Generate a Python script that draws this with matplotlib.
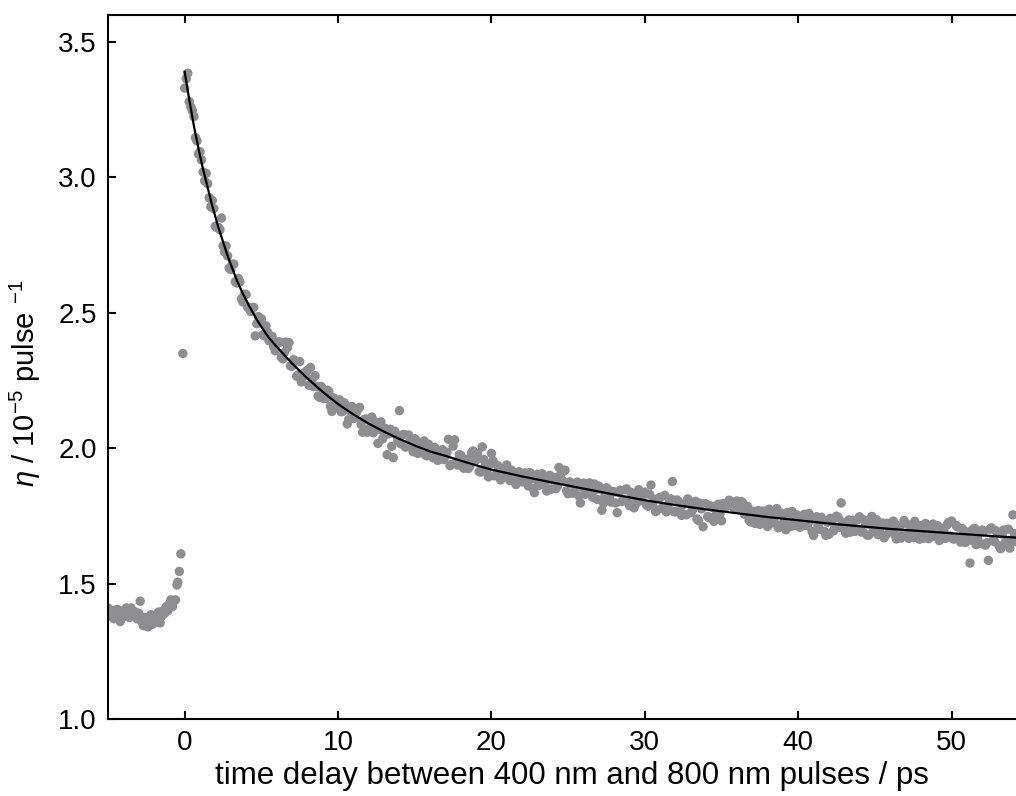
import matplotlib
matplotlib.use("Agg")
import matplotlib.pyplot as plt
from matplotlib.ticker import FormatStrFormatter

plt.rcParams["font.family"] = ["Liberation Sans", "DejaVu Sans"]
plt.rcParams["mathtext.fontset"] = "custom"
plt.rcParams["mathtext.rm"] = "Liberation Sans"
plt.rcParams["mathtext.it"] = "Liberation Sans:italic"

# Measured efficiency before time zero (baseline and rising edge)
delay_pre = [-5.0, -4.9, -4.8, -4.7, -4.6, -4.5, -4.4, -4.3, -4.2, -4.1,
             -4.0, -3.9, -3.8, -3.7, -3.6, -3.5, -3.4, -3.3, -3.2, -3.1,
             -3.0, -2.9, -2.8, -2.7, -2.6, -2.5, -2.4, -2.3, -2.2, -2.1,
             -2.0, -1.9, -1.8, -1.7, -1.6, -1.5, -1.4, -1.3, -1.2, -1.1,
             -1.0, -0.9, -0.8, -0.7, -0.6, -0.5, -0.45, -0.35, -0.25, -0.12]
eta_pre = [1.41, 1.395, 1.38, 1.40, 1.37, 1.39, 1.405, 1.385, 1.36, 1.395,
           1.40, 1.38, 1.41, 1.395, 1.375, 1.41, 1.40, 1.385, 1.395, 1.37,
           1.39, 1.435, 1.36, 1.345, 1.375, 1.355, 1.34, 1.37, 1.385, 1.35,
           1.365, 1.38, 1.36, 1.395, 1.355, 1.38, 1.40, 1.39, 1.415, 1.40,
           1.425, 1.44, 1.415, 1.435, 1.44, 1.495, 1.505, 1.545, 1.61, 2.35]

# Measured efficiency after time zero, first set of delays
delay_post = [0.0, 0.1, 0.2, 0.3,
              0.4, 0.6, 0.8, 1.0, 1.2, 1.4, 1.6, 1.8,
              2.0, 2.2, 2.4, 2.6, 2.8, 3.0, 3.2, 3.4, 3.6, 3.8,
              4.0, 4.2, 4.4, 4.6, 4.8, 5.0, 5.2, 5.4, 5.6, 5.8,
              6.0, 6.2, 6.4, 6.6, 6.8, 7.0, 7.2, 7.4, 7.6, 7.8,
              8.0, 8.2, 8.4, 8.6, 8.8, 9.0, 9.2, 9.4, 9.6, 9.8,
              10.0, 10.2, 10.4, 10.6, 10.8, 11.0, 11.2, 11.4, 11.6, 11.8,
              12.0, 12.2, 12.4, 12.6, 12.8, 13.0, 13.2, 13.4, 13.6, 13.8,
              14.0, 14.2, 14.4, 14.6, 14.8, 15.0, 15.2, 15.4, 15.6, 15.8,
              16.0, 16.2, 16.4, 16.6, 16.8, 17.0, 17.2, 17.4, 17.6, 17.8,
              18.0, 18.2, 18.4, 18.6, 18.8, 19.0, 19.2, 19.4, 19.6, 19.8,
              20.0, 20.2, 20.4, 20.6, 20.8, 21.0, 21.2, 21.4, 21.6, 21.8,
              22.0, 22.2, 22.4, 22.6, 22.8, 23.0, 23.2, 23.4, 23.6, 23.8,
              24.0, 24.2, 24.4, 24.6, 24.8, 25.0, 25.2, 25.4, 25.6, 25.8,
              26.0, 26.2, 26.4, 26.6, 26.8, 27.0, 27.2, 27.4, 27.6, 27.8,
              28.0, 28.2, 28.4, 28.6, 28.8, 29.0, 29.2, 29.4, 29.6, 29.8,
              30.0, 30.2, 30.4, 30.6, 30.8, 31.0, 31.2, 31.4, 31.6, 31.8,
              32.0, 32.2, 32.4, 32.6, 32.8, 33.0, 33.2, 33.4, 33.6, 33.8,
              34.0, 34.2, 34.4, 34.6, 34.8, 35.0, 35.2, 35.4, 35.6, 35.8,
              36.0, 36.2, 36.4, 36.6, 36.8, 37.0, 37.2, 37.4, 37.6, 37.8,
              38.0, 38.2, 38.4, 38.6, 38.8, 39.0, 39.2, 39.4, 39.6, 39.8,
              40.0, 40.2, 40.4, 40.6, 40.8, 41.0, 41.2, 41.4, 41.6, 41.8,
              42.0, 42.2, 42.4, 42.6, 42.8, 43.0, 43.2, 43.4, 43.6, 43.8,
              44.0, 44.2, 44.4, 44.6, 44.8, 45.0, 45.2, 45.4, 45.6, 45.8,
              46.0, 46.2, 46.4, 46.6, 46.8, 47.0, 47.2, 47.4, 47.6, 47.8,
              48.0, 48.2, 48.4, 48.6, 48.8, 49.0, 49.2, 49.4, 49.6, 49.8,
              50.0, 50.2, 50.4, 50.6, 50.8, 51.0, 51.2, 51.4, 51.6, 51.8,
              52.0, 52.2, 52.4, 52.6, 52.8, 53.0, 53.2, 53.4, 53.6, 53.8,
              54.0, 54.2]
eta_post = [3.33, 3.365, 3.385, 3.28,
            3.26, 3.225, 3.135, 3.095, 3.02, 3.015, 2.925, 2.915,
            2.82, 2.815, 2.85, 2.725, 2.71, 2.66, 2.68, 2.61, 2.615, 2.54,
            2.568, 2.516, 2.52, 2.415, 2.486, 2.478, 2.415, 2.429, 2.41, 2.376,
            2.385, 2.392, 2.33, 2.392, 2.39, 2.303, 2.322, 2.271, 2.245, 2.279,
            2.288, 2.298, 2.228, 2.228, 2.188, 2.218, 2.184, 2.21, 2.136, 2.177,
            2.173, 2.135, 2.168, 2.09, 2.138, 2.11, 2.133, 2.151, 2.059, 2.108,
            2.071, 2.115, 2.069, 2.018, 2.097, 2.046, 1.976, 2.07, 1.965, 2.049,
            2.139, 2.049, 2.004, 2.049, 2.005, 2.035, 1.981, 2.011, 2.027, 1.972,
            2.003, 1.965, 1.992, 1.964, 1.995, 1.972, 2.033, 1.94, 2.031, 1.938,
            1.974, 1.926, 1.957, 1.934, 1.99, 1.957, 1.914, 2.005, 1.937, 1.894,
            1.981, 1.898, 1.936, 1.883, 1.911, 1.938, 1.881, 1.913, 1.866, 1.913,
            1.876, 1.909, 1.861, 1.889, 1.836, 1.904, 1.867, 1.89, 1.842, 1.90,
            1.883, 1.851, 1.929, 1.881, 1.919, 1.832, 1.87, 1.838, 1.875, 1.798,
            1.871, 1.839, 1.872, 1.819, 1.847, 1.86, 1.771, 1.826, 1.848, 1.801,
            1.839, 1.762, 1.845, 1.807, 1.85, 1.788, 1.826, 1.794, 1.847, 1.81,
            1.838, 1.786, 1.864, 1.812, 1.771, 1.819, 1.782, 1.765, 1.804, 1.877,
            1.765, 1.803, 1.752, 1.795, 1.813, 1.762, 1.785, 1.739, 1.797, 1.71,
            1.794, 1.743, 1.781, 1.75, 1.793, 1.732, 1.781, 1.799, 1.803, 1.781,
            1.805, 1.789, 1.797, 1.766, 1.734, 1.758, 1.722, 1.77, 1.729, 1.757,
            1.711, 1.765, 1.734, 1.777, 1.716, 1.75, 1.699, 1.752, 1.766, 1.715,
            1.744, 1.713, 1.756, 1.715, 1.734, 1.678, 1.747, 1.701, 1.734, 1.678,
            1.682, 1.736, 1.71, 1.744, 1.798, 1.702, 1.726, 1.69, 1.734, 1.703,
            1.747, 1.691, 1.72, 1.679, 1.748, 1.722, 1.681, 1.71, 1.669, 1.723,
            1.692, 1.731, 1.665, 1.709, 1.678, 1.723, 1.667, 1.696, 1.73, 1.679,
            1.714, 1.668, 1.702, 1.671, 1.72, 1.68, 1.659, 1.703, 1.667, 1.726,
            1.731, 1.665, 1.709, 1.653, 1.693, 1.667, 1.576, 1.70, 1.644, 1.689,
            1.698, 1.642, 1.586, 1.706, 1.655, 1.685, 1.629, 1.698, 1.657, 1.631,
            1.754, 1.655]

# Measured efficiency after time zero, interleaved delays
delay_mid = [0.5, 0.7, 0.9, 1.1, 1.3, 1.5, 1.7, 1.9,
             2.1, 2.3, 2.5, 2.7, 2.9, 3.1, 3.3, 3.5, 3.7, 3.9,
             4.1, 4.3, 4.5, 4.7, 4.9, 5.1, 5.3, 5.5, 5.7, 5.9,
             6.1, 6.3, 6.5, 6.7, 6.9, 7.1, 7.3, 7.5, 7.7, 7.9,
             8.1, 8.3, 8.5, 8.7, 8.9, 9.1, 9.3, 9.5, 9.7, 9.9,
             10.1, 10.3, 10.5, 10.7, 10.9, 11.1, 11.3, 11.5, 11.7, 11.9,
             12.1, 12.3, 12.5, 12.7, 12.9, 13.1, 13.3, 13.5, 13.7, 13.9,
             14.1, 14.3, 14.5, 14.7, 14.9, 15.1, 15.3, 15.5, 15.7, 15.9,
             16.1, 16.3, 16.5, 16.7, 16.9, 17.1, 17.3, 17.5, 17.7, 17.9,
             18.1, 18.3, 18.5, 18.7, 18.9, 19.1, 19.3, 19.5, 19.7, 19.9,
             20.1, 20.3, 20.5, 20.7, 20.9, 21.1, 21.3, 21.5, 21.7, 21.9,
             22.1, 22.3, 22.5, 22.7, 22.9, 23.1, 23.3, 23.5, 23.7, 23.9,
             24.1, 24.3, 24.5, 24.7, 24.9, 25.1, 25.3, 25.5, 25.7, 25.9,
             26.1, 26.3, 26.5, 26.7, 26.9, 27.1, 27.3, 27.5, 27.7, 27.9,
             28.1, 28.3, 28.5, 28.7, 28.9, 29.1, 29.3, 29.5, 29.7, 29.9,
             30.1, 30.3, 30.5, 30.7, 30.9, 31.1, 31.3, 31.5, 31.7, 31.9,
             32.1, 32.3, 32.5, 32.7, 32.9, 33.1, 33.3, 33.5, 33.7, 33.9,
             34.1, 34.3, 34.5, 34.7, 34.9, 35.1, 35.3, 35.5, 35.7, 35.9,
             36.1, 36.3, 36.5, 36.7, 36.9, 37.1, 37.3, 37.5, 37.7, 37.9,
             38.1, 38.3, 38.5, 38.7, 38.9, 39.1, 39.3, 39.5, 39.7, 39.9,
             40.1, 40.3, 40.5, 40.7, 40.9, 41.1, 41.3, 41.5, 41.7, 41.9,
             42.1, 42.3, 42.5, 42.7, 42.9, 43.1, 43.3, 43.5, 43.7, 43.9,
             44.1, 44.3, 44.5, 44.7, 44.9, 45.1, 45.3, 45.5, 45.7, 45.9,
             46.1, 46.3, 46.5, 46.7, 46.9, 47.1, 47.3, 47.5, 47.7, 47.9,
             48.1, 48.3, 48.5, 48.7, 48.9, 49.1, 49.3, 49.5, 49.7, 49.9,
             50.1, 50.3, 50.5, 50.7, 50.9, 51.1, 51.3, 51.5, 51.7, 51.9,
             52.1, 52.3, 52.5, 52.7, 52.9, 53.1, 53.3, 53.5, 53.7, 53.9,
             54.1]
eta_mid = [3.247, 3.147, 3.087, 3.065, 2.987, 2.977, 2.892, 2.885,
           2.815, 2.807, 2.747, 2.747, 2.665, 2.68, 2.615, 2.627, 2.552, 2.569,
           2.522, 2.505, 2.52, 2.46, 2.472, 2.419, 2.452, 2.397, 2.413, 2.36,
           2.393, 2.336, 2.353, 2.371, 2.304, 2.327, 2.266, 2.32, 2.264, 2.278,
           2.233, 2.253, 2.268, 2.193, 2.228, 2.183, 2.214, 2.155, 2.186, 2.152,
           2.179, 2.136, 2.154, 2.106, 2.154, 2.112, 2.145, 2.088, 2.106, 2.059,
           2.098, 2.057, 2.096, 2.07, 2.034, 2.073, 2.053, 2.007, 2.062, 2.027,
           2.016, 2.051, 2.011, 2.027, 1.987, 2.028, 1.993, 2.014, 1.974, 2.015,
           1.977, 2.003, 1.955, 1.987, 1.958, 1.985, 1.936, 2.008, 1.949, 1.976,
           1.937, 1.959, 1.925, 1.982, 1.953, 1.98, 1.912, 1.958, 1.915, 1.942,
           1.954, 1.902, 1.924, 1.892, 1.929, 1.897, 1.919, 1.877, 1.904, 1.882,
           1.905, 1.872, 1.91, 1.852, 1.885, 1.863, 1.906, 1.868, 1.891, 1.849,
           1.892, 1.86, 1.902, 1.915, 1.843, 1.876, 1.834, 1.866, 1.824, 1.857,
           1.83, 1.863, 1.84, 1.868, 1.811, 1.849, 1.797, 1.854, 1.817, 1.84,
           1.798, 1.836, 1.803, 1.846, 1.809, 1.837, 1.78, 1.828, 1.806, 1.829,
           1.792, 1.83, 1.793, 1.766, 1.815, 1.778, 1.826, 1.785, 1.813, 1.766,
           1.809, 1.768, 1.791, 1.754, 1.797, 1.771, 1.804, 1.733, 1.776, 1.795,
           1.748, 1.787, 1.73, 1.789, 1.757, 1.796, 1.785, 1.808, 1.787, 1.80,
           1.779, 1.803, 1.756, 1.785, 1.728, 1.767, 1.741, 1.719, 1.768, 1.731,
           1.775, 1.724, 1.758, 1.706, 1.76, 1.729, 1.763, 1.711, 1.735, 1.754,
           1.708, 1.742, 1.715, 1.759, 1.693, 1.742, 1.716, 1.745, 1.693, 1.727,
           1.741, 1.695, 1.749, 1.708, 1.727, 1.686, 1.735, 1.719, 1.693, 1.737,
           1.691, 1.735, 1.679, 1.718, 1.692, 1.736, 1.695, 1.724, 1.678, 1.707,
           1.721, 1.68, 1.714, 1.668, 1.733, 1.687, 1.716, 1.67, 1.704, 1.664,
           1.683, 1.722, 1.666, 1.70, 1.675, 1.714, 1.668, 1.692, 1.716, 1.676,
           1.665, 1.714, 1.668, 1.703, 1.652, 1.691, 1.66, 1.704, 1.669, 1.648,
           1.692, 1.651, 1.701, 1.66, 1.695, 1.639, 1.683, 1.652, 1.701, 1.66,
           1.685]

# Fitted decay curve
fit_delay = [0.0, 0.2, 0.4, 0.6, 0.8, 1.0, 1.2, 1.4, 1.6, 1.8, 2.0, 2.2, 2.4, 2.6,
             2.8, 3.0, 3.4, 3.8, 4.2, 4.6, 5.0, 5.5, 6, 7, 8, 9, 10, 11, 12, 13,
             14, 15, 16, 17, 18, 19, 20, 22, 24, 26, 28, 30, 32, 34, 36, 38, 40,
             42, 44, 46, 48, 50, 52, 54.2]
fit_eta = [3.39, 3.32, 3.255, 3.19, 3.135, 3.08, 3.03, 2.985, 2.94, 2.895, 2.855,
           2.815, 2.78, 2.745, 2.71, 2.68, 2.62, 2.57, 2.526, 2.485, 2.448, 2.407,
           2.375, 2.313, 2.258, 2.208, 2.163, 2.125, 2.091, 2.061, 2.034, 2.01,
           1.988, 1.972, 1.954, 1.937, 1.921, 1.896, 1.873, 1.851, 1.829, 1.808,
           1.790, 1.774, 1.760, 1.746, 1.734, 1.722, 1.712, 1.702, 1.694, 1.686,
           1.678, 1.670]

x_ticks = [0, 10, 20, 30, 40, 50]
y_ticks = [1.0, 1.5, 2.0, 2.5, 3.0, 3.5]

W, H = 1016, 796
fig = plt.figure(figsize=(W / 100, H / 100), dpi=100)
ax = fig.add_axes([108 / W, 77 / H, 908 / W, 704 / H])

ax.scatter(delay_pre + delay_post + delay_mid, eta_pre + eta_post + eta_mid,
           s=46, color="#8e8e91", edgecolors="none", zorder=2)
ax.plot(fit_delay, fit_eta, color="black", lw=1.6, zorder=3)

ax.set_xlim(-5, 54.2)
ax.set_ylim(1.0, 3.6)
ax.set_xticks(x_ticks)
ax.set_yticks(y_ticks)
ax.yaxis.set_major_formatter(FormatStrFormatter("%.1f"))
ax.tick_params(direction="in", length=6, width=1.5, labelsize=20,
               top=True, right=False, pad=8, colors="black")
for side in ("left", "bottom", "top"):
    ax.spines[side].set_linewidth(1.5)
ax.spines["right"].set_visible(False)

ax.set_xlabel("time delay between 400 nm and 800 nm pulses / ps", fontsize=22.5)
ax.xaxis.set_label_coords((572 - 108) / 908, (719 - 761) / 704)
ax.set_ylabel(r"$\eta$ / 10$^{-5}$ pulse $^{-1}$", fontsize=21)
ax.yaxis.set_label_coords((43 - 108) / 908, (719 - 383) / 704)

fig.savefig("out.png", dpi=100)
